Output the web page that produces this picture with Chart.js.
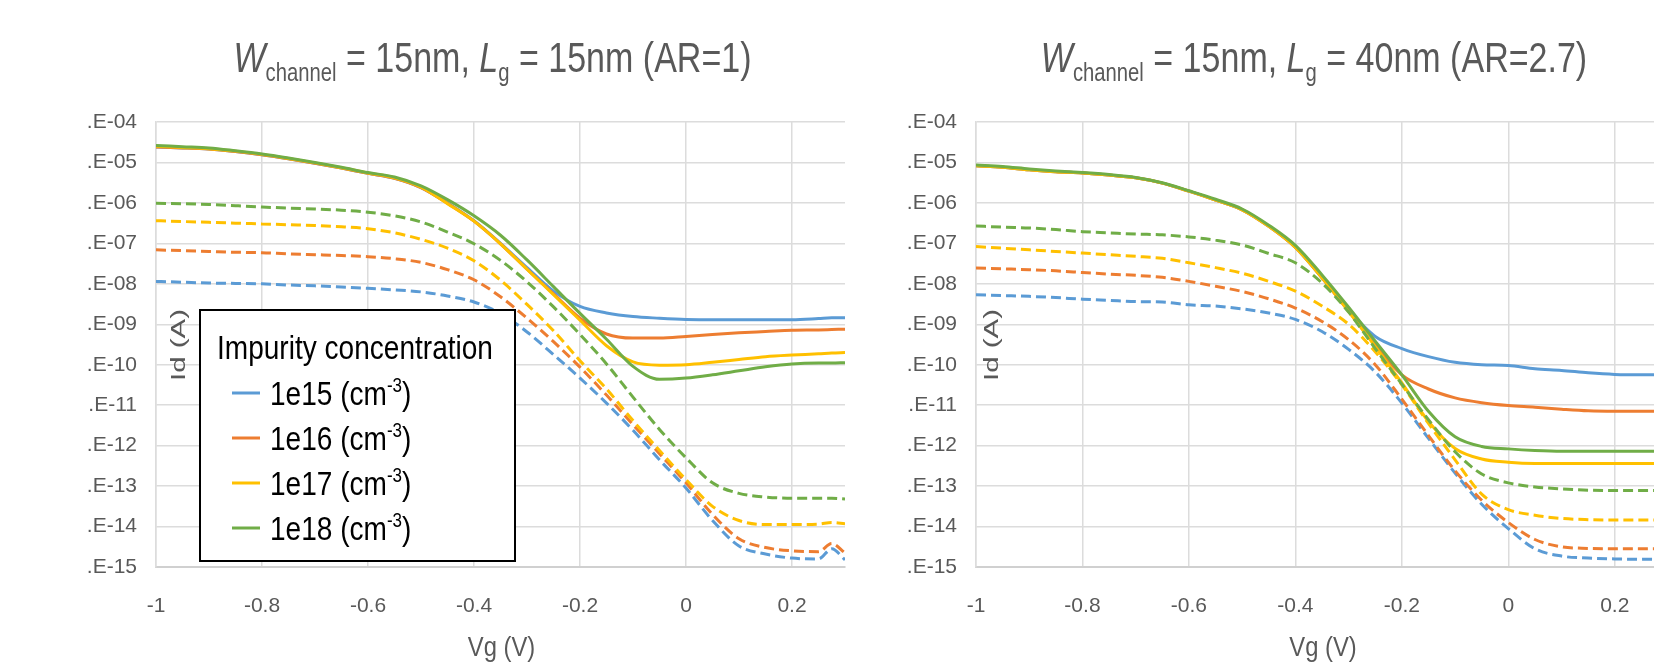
<!DOCTYPE html>
<html>
<head>
<meta charset="utf-8">
<script src="https://cdn.jsdelivr.net/npm/chart.js@4.4.1/dist/chart.umd.min.js"></script>
<style>
  body { margin: 0; width: 1654px; height: 670px; overflow: hidden; background: #fff; position: relative; }
  .panel { position: absolute; top: 0; height: 670px; overflow: hidden; }
</style>
</head>
<body>
<div class="panel" style="left:0;width:848px"><canvas id="chartAR1" width="900" height="670"></canvas></div>
<div class="panel" style="left:848px;width:806px"><canvas id="chartAR27" width="860" height="670"></canvas></div>
<script>
// ---- data ----
// gate voltage Vg (V), shared by every curve
const vg = [-1, -0.95, -0.9, -0.85, -0.8, -0.75, -0.7, -0.65, -0.6, -0.55, -0.5, -0.45, -0.4, -0.35,
            -0.3, -0.25, -0.2, -0.15, -0.1, -0.05, 0, 0.05, 0.1, 0.15, 0.2, 0.25, 0.275, 0.3];

const xTicks = [-1, -0.8, -0.6, -0.4, -0.2, 0, 0.2];
const yTicks = [1e-4, 1e-5, 1e-6, 1e-7, 1e-8, 1e-9, 1e-10, 1e-11, 1e-12, 1e-13, 1e-14, 1e-15];

const concentrations = ['1e15', '1e16', '1e17', '1e18'];
const channelWidth = 15;
const gateLengths = [15, 40];
const aspectRatios = ['1', '2.7'];

// log10(Id / A) -- Lg = 15nm, solid curves
const ar1Solid1e15 = [-4.62,-4.64,-4.67,-4.73,-4.81,-4.91,-5.02,-5.14,-5.27,-5.39,-5.62,-6.00,-6.44,-7.00,-7.60,-8.18,-8.56,-8.72,-8.81,-8.85,-8.88,-8.89,-8.89,-8.89,-8.89,-8.86,-8.84,-8.84];
const ar1Solid1e16 = [-4.62,-4.64,-4.67,-4.73,-4.81,-4.91,-5.02,-5.14,-5.27,-5.39,-5.62,-6.01,-6.45,-7.01,-7.64,-8.25,-8.85,-9.24,-9.34,-9.34,-9.30,-9.25,-9.21,-9.18,-9.15,-9.14,-9.13,-9.12];
const ar1Solid1e17 = [-4.60,-4.63,-4.66,-4.72,-4.80,-4.90,-5.01,-5.13,-5.26,-5.38,-5.61,-6.02,-6.45,-7.01,-7.64,-8.27,-8.90,-9.53,-9.93,-10.01,-10.00,-9.94,-9.87,-9.80,-9.76,-9.73,-9.71,-9.70];
const ar1Solid1e18 = [-4.58,-4.61,-4.64,-4.71,-4.79,-4.89,-5.00,-5.12,-5.25,-5.36,-5.58,-5.92,-6.32,-6.80,-7.41,-8.07,-8.73,-9.37,-10.04,-10.36,-10.33,-10.25,-10.15,-10.05,-9.98,-9.96,-9.96,-9.95];
// Lg = 15nm, dashed curves
const ar1Dash1e15 = [-7.94,-7.96,-7.98,-7.99,-8.00,-8.03,-8.05,-8.08,-8.11,-8.15,-8.20,-8.30,-8.45,-8.73,-9.19,-9.75,-10.33,-10.95,-11.62,-12.35,-13.05,-13.85,-14.48,-14.68,-14.78,-14.80,-14.55,-14.82];
const ar1Dash1e16 = [-7.16,-7.18,-7.20,-7.22,-7.23,-7.26,-7.28,-7.30,-7.33,-7.38,-7.47,-7.65,-7.90,-8.32,-8.85,-9.43,-10.06,-10.75,-11.48,-12.20,-12.92,-13.70,-14.30,-14.52,-14.60,-14.62,-14.42,-14.65];
const ar1Dash1e17 = [-6.44,-6.46,-6.48,-6.50,-6.52,-6.54,-6.56,-6.59,-6.64,-6.74,-6.90,-7.12,-7.43,-7.91,-8.51,-9.16,-9.90,-10.60,-11.38,-12.12,-12.84,-13.50,-13.85,-13.95,-13.95,-13.94,-13.90,-13.93];
const ar1Dash1e18 = [-6.01,-6.02,-6.04,-6.07,-6.10,-6.13,-6.15,-6.18,-6.23,-6.32,-6.47,-6.72,-7.01,-7.42,-7.95,-8.57,-9.25,-9.98,-10.80,-11.60,-12.30,-12.92,-13.18,-13.27,-13.30,-13.30,-13.30,-13.32];

// Lg = 40nm, solid curves
const ar27Solid1e15 = [-5.08,-5.12,-5.18,-5.23,-5.26,-5.31,-5.38,-5.51,-5.71,-5.93,-6.17,-6.58,-7.10,-7.85,-8.65,-9.30,-9.60,-9.80,-9.94,-10.00,-10.02,-10.10,-10.14,-10.20,-10.24,-10.25,-10.25,-10.25];
const ar27Solid1e16 = [-5.08,-5.12,-5.18,-5.23,-5.26,-5.31,-5.38,-5.51,-5.71,-5.93,-6.17,-6.58,-7.10,-7.85,-8.68,-9.52,-10.25,-10.60,-10.82,-10.94,-11.01,-11.05,-11.10,-11.14,-11.15,-11.15,-11.15,-11.15];
const ar27Solid1e17 = [-5.08,-5.12,-5.18,-5.23,-5.26,-5.31,-5.38,-5.51,-5.71,-5.93,-6.17,-6.58,-7.10,-7.85,-8.68,-9.55,-10.45,-11.40,-12.07,-12.33,-12.41,-12.44,-12.44,-12.44,-12.44,-12.44,-12.44,-12.44];
const ar27Solid1e18 = [-5.06,-5.10,-5.16,-5.21,-5.25,-5.30,-5.37,-5.50,-5.70,-5.91,-6.15,-6.55,-7.05,-7.78,-8.58,-9.42,-10.25,-11.15,-11.78,-12.02,-12.08,-12.12,-12.14,-12.14,-12.14,-12.14,-12.14,-12.14];
// Lg = 40nm, dashed curves
const ar27Dash1e15 = [-8.27,-8.29,-8.31,-8.34,-8.38,-8.41,-8.44,-8.45,-8.52,-8.55,-8.62,-8.72,-8.88,-9.18,-9.62,-10.18,-10.95,-11.82,-12.68,-13.45,-14.05,-14.55,-14.73,-14.78,-14.80,-14.81,-14.81,-14.81];
const ar27Dash1e16 = [-7.61,-7.63,-7.65,-7.68,-7.72,-7.76,-7.79,-7.84,-7.94,-8.06,-8.19,-8.37,-8.60,-8.93,-9.38,-10.00,-10.85,-11.75,-12.62,-13.35,-13.90,-14.32,-14.50,-14.54,-14.55,-14.55,-14.55,-14.55];
const ar27Dash1e17 = [-7.08,-7.12,-7.16,-7.20,-7.24,-7.28,-7.32,-7.37,-7.48,-7.60,-7.74,-7.94,-8.18,-8.55,-9.00,-9.68,-10.50,-11.45,-12.35,-13.20,-13.58,-13.72,-13.80,-13.83,-13.84,-13.84,-13.84,-13.84];
const ar27Dash1e18 = [-6.57,-6.60,-6.62,-6.66,-6.71,-6.74,-6.77,-6.79,-6.84,-6.92,-7.04,-7.25,-7.48,-7.98,-8.70,-9.60,-10.48,-11.36,-12.15,-12.70,-12.92,-13.02,-13.07,-13.10,-13.11,-13.11,-13.11,-13.11];

// ---- style ----
const colors = ['#5B9BD5', '#ED7D31', '#FFC000', '#70AD47'];
const FONT = '"Liberation Sans", Arial, sans-serif';
const GREY = '#595959';

function toPoints(logs) {
    return vg.map((x, i) => ({ x: x, y: Math.pow(10, logs[i]) }));
}

// bottom-to-top: solids first, then dashed (Excel series order)
function buildDatasets(solids, dashes) {
    const list = [];
    solids.forEach((s, i) => list.push({ data: toPoints(s), borderColor: colors[i], borderDash: [] }));
    dashes.forEach((s, i) => list.push({ data: toPoints(s), borderColor: colors[i], borderDash: [10, 5] }));
    return list.map((d, i) => ({
        label: concentrations[i % 4],
        data: d.data,
        borderColor: d.borderColor,
        borderDash: d.borderDash,
        borderWidth: 3,
        pointRadius: 0,
        fill: false,
        cubicInterpolationMode: 'monotone',
        order: list.length - i
    }));
}

// draws a run of text pieces squeezed horizontally by k (the original uses a narrow face)
// pieces: [text, font, dy]
function drawRun(ctx, pieces, x, y, k, align) {
    let total = 0;
    pieces.forEach(p => { ctx.font = p[1]; total += ctx.measureText(p[0]).width; });
    let x0 = x;
    if (align === 'center') x0 = x - total * k / 2;
    ctx.save();
    ctx.translate(x0, y);
    ctx.scale(k, 1);
    ctx.textAlign = 'left';
    ctx.textBaseline = 'alphabetic';
    let cx = 0;
    pieces.forEach(p => {
        ctx.font = p[1];
        ctx.fillText(p[0], cx, p[2]);
        cx += ctx.measureText(p[0]).width;
    });
    ctx.restore();
}

function drawTitle(ctx, cx, y, lg, ar) {
    const big = '42px ' + FONT, bigI = 'italic 42px ' + FONT, sub = '25px ' + FONT;
    ctx.fillStyle = GREY;
    drawRun(ctx, [
        ['W', bigI, 0], ['channel', sub, 9], [' = ' + channelWidth + 'nm, ', big, 0],
        ['L', bigI, 0], ['g', sub, 9], [' = ' + lg + 'nm (AR=' + ar + ')', big, 0]
    ], cx, y, 0.81, 'center');
}

function drawLegend(ctx, box) {
    ctx.fillStyle = '#fff';
    ctx.fillRect(box.x, box.y, box.w, box.h);
    ctx.strokeStyle = '#000';
    ctx.lineWidth = 2;
    ctx.strokeRect(box.x, box.y, box.w, box.h);

    ctx.fillStyle = '#000';
    const k = 0.85;
    const f = '33px ' + FONT, fs = '20px ' + FONT;
    drawRun(ctx, [['Impurity concentration', f, 0]], box.x + 17, box.y + 49, k, 'left');

    concentrations.forEach((c, i) => {
        const cy = box.y + 83 + i * 45;
        ctx.strokeStyle = colors[i];
        ctx.lineWidth = 3;
        ctx.beginPath();
        ctx.moveTo(box.x + 32, cy);
        ctx.lineTo(box.x + 60, cy);
        ctx.stroke();

        ctx.fillStyle = '#000';
        drawRun(ctx, [[c + ' (cm', f, 0], ['-3', fs, -13], [')', f, 0]], box.x + 70, cy + 12, k, 'left');
    });
}

const panelDecor = {
    id: 'panelDecor',
    afterDraw(chart, args, opts) {
        const ctx = chart.ctx;
        const a = chart.chartArea;
        const cx = (a.left + a.right) / 2;
        ctx.save();
        drawTitle(ctx, cx - 8, 72, opts.lg, opts.ar);

        // x axis title
        ctx.fillStyle = GREY;
        drawRun(ctx, [['Vg (V)', '28px ' + FONT, 0]], cx + 1, 656, 0.85, 'center');

        // y axis title, sitting inside the plot area
        ctx.save();
        ctx.translate(a.left + opts.idOffset, 345);
        ctx.rotate(-Math.PI / 2);
        ctx.scale(1.4, 1);
        ctx.font = '21px ' + FONT;
        ctx.textAlign = 'center';
        ctx.textBaseline = 'middle';
        ctx.fillText('Id (A)', 0, 0);
        ctx.restore();

        if (opts.legend) drawLegend(ctx, opts.legend);
        ctx.restore();
    }
};

function makeChart(id, solids, dashes, yAxisWidth, padRight, decor) {
    const ctx = document.getElementById(id).getContext('2d');
    return new Chart(ctx, {
        type: 'line',
        data: { datasets: buildDatasets(solids, dashes) },
        options: {
            responsive: false,
            animation: false,
            devicePixelRatio: 1,
            events: [],
            layout: { padding: { top: 122, right: padRight, bottom: 0, left: 0 } },
            plugins: {
                legend: { display: false },
                title: { display: false },
                tooltip: { enabled: false },
                panelDecor: decor
            },
            scales: {
                x: {
                    type: 'linear',
                    min: -1,
                    max: 0.3,
                    afterBuildTicks: s => { s.ticks = xTicks.map(v => ({ value: v })); },
                    afterFit: s => { s.height = 103; },
                    grid: { color: '#dcdcdc', lineWidth: 1.5, drawTicks: false },
                    border: { color: '#d0d0d0', width: 2 },
                    ticks: {
                        padding: 27,
                        color: GREY,
                        font: { family: FONT, size: 21 },
                        maxRotation: 0,
                        callback: v => String(v)
                    }
                },
                y: {
                    type: 'logarithmic',
                    min: 1e-15,
                    max: 1e-4,
                    afterBuildTicks: s => { s.ticks = yTicks.map(v => ({ value: v })); },
                    afterFit: s => { s.width = yAxisWidth; },
                    grid: { color: '#dcdcdc', lineWidth: 1.5, drawTicks: false },
                    border: { color: '#dcdcdc', width: 1.5 },
                    ticks: {
                        padding: 19,
                        color: GREY,
                        font: { family: FONT, size: 21 },
                        callback: v => {
                            const e = Math.round(Math.log10(v));
                            return '.E-' + String(Math.abs(e)).padStart(2, '0');
                        }
                    }
                }
            }
        },
        plugins: [panelDecor]
    });
}

makeChart('chartAR1',
    [ar1Solid1e15, ar1Solid1e16, ar1Solid1e17, ar1Solid1e18],
    [ar1Dash1e15, ar1Dash1e16, ar1Dash1e17, ar1Dash1e18],
    156, 55,
    { lg: gateLengths[0], ar: aspectRatios[0], idOffset: 23, legend: { x: 200, y: 310, w: 315, h: 251 } });

makeChart('chartAR27',
    [ar27Solid1e15, ar27Solid1e16, ar27Solid1e17, ar27Solid1e18],
    [ar27Dash1e15, ar27Dash1e16, ar27Dash1e17, ar27Dash1e18],
    128, 40,
    { lg: gateLengths[1], ar: aspectRatios[1], idOffset: 16, legend: null });
</script>
</body>
</html>
